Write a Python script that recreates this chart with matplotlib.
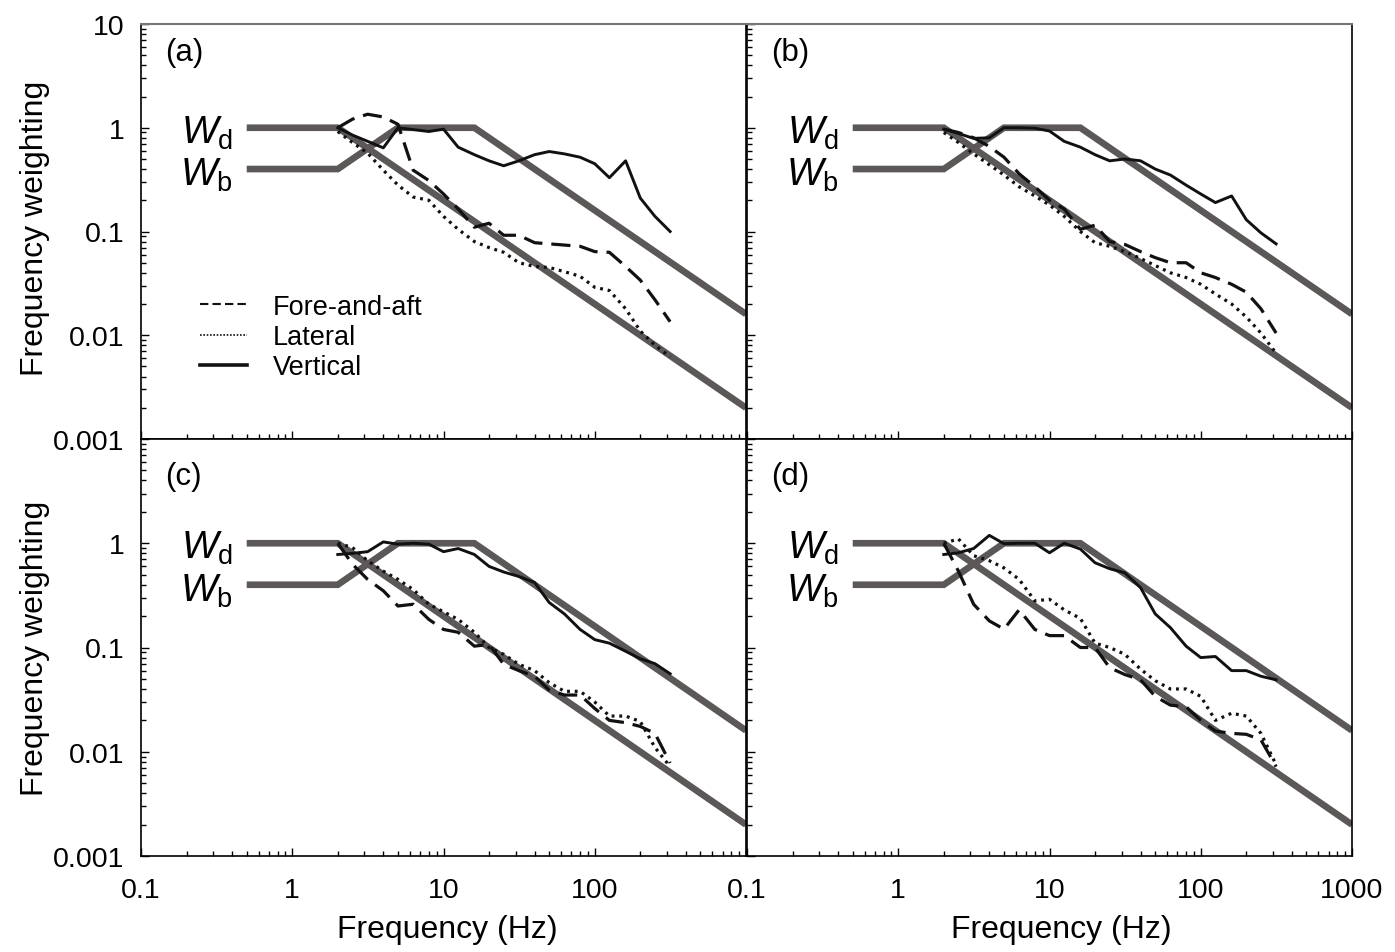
import matplotlib
matplotlib.use("Agg")
import matplotlib.pyplot as plt
from matplotlib.lines import Line2D
from matplotlib.ticker import FixedLocator, LogLocator, FuncFormatter, NullFormatter

plt.rcParams['font.family'] = ['Liberation Sans', 'DejaVu Sans']
plt.rcParams['mathtext.fontset'] = 'custom'
plt.rcParams['mathtext.rm'] = 'Liberation Sans'
plt.rcParams['mathtext.it'] = 'Liberation Sans:italic'

# ---------------- data ----------------
freqs = [2, 2.5, 3.15, 4, 5, 6.3, 8, 10, 12.5, 16, 20, 25, 31.5, 40, 50, 63,
         80, 100, 125, 160, 200, 250, 315]

a_fore = [1.0, 1.21, 1.35, 1.27, 1.08, 0.39, 0.31, 0.23, 0.165, 0.11, 0.12, 0.092,
          0.092, 0.078, 0.076, 0.074, 0.072, 0.064, 0.063, 0.046, 0.034, 0.022, 0.0135]
a_lat = [0.92, 0.72, 0.57, 0.39, 0.28, 0.215, 0.2, 0.14, 0.105, 0.08, 0.07, 0.063,
         0.05, 0.046, 0.045, 0.041, 0.037, 0.029, 0.027, 0.018, 0.011, 0.008, 0.0062]
a_vert = [1.0, 0.85, 0.74, 0.64, 1.0, 0.96, 0.92, 0.97, 0.65, 0.55, 0.48, 0.43,
          0.48, 0.55, 0.59, 0.56, 0.52, 0.45, 0.33, 0.48, 0.21, 0.14, 0.10]

b_fore = [0.97, 0.9, 0.8, 0.66, 0.52, 0.36, 0.27, 0.2, 0.165, 0.105, 0.115, 0.08,
          0.075, 0.064, 0.056, 0.05, 0.05, 0.04, 0.036, 0.031, 0.026, 0.018, 0.0105]
b_lat = [0.9, 0.72, 0.56, 0.44, 0.35, 0.27, 0.22, 0.18, 0.14, 0.1, 0.078, 0.072,
         0.064, 0.055, 0.047, 0.04, 0.036, 0.031, 0.025, 0.02, 0.015, 0.0105, 0.0067]
b_vert = [0.97, 0.88, 0.79, 0.8, 1.0, 1.0, 0.99, 0.93, 0.74, 0.65, 0.55, 0.48,
          0.5, 0.48, 0.4, 0.35, 0.28, 0.23, 0.19, 0.22, 0.13, 0.097, 0.076]

c_fore = [1.0, 0.63, 0.45, 0.35, 0.25, 0.26, 0.186, 0.149, 0.14, 0.103, 0.107, 0.069,
          0.06, 0.053, 0.039, 0.035, 0.035, 0.026, 0.02, 0.019, 0.0175, 0.015, 0.0078]
c_lat = [1.0, 0.91, 0.68, 0.54, 0.45, 0.36, 0.26, 0.22, 0.186, 0.14, 0.1, 0.086,
         0.069, 0.06, 0.046, 0.038, 0.038, 0.03, 0.022, 0.022, 0.0195, 0.011, 0.0072]
c_vert = [0.78, 0.8, 0.83, 1.03, 0.98, 1.0, 0.98, 0.83, 0.89, 0.78, 0.6, 0.53,
          0.48, 0.42, 0.27, 0.21, 0.149, 0.119, 0.11, 0.092, 0.078, 0.07, 0.056]

d_fore = [1.0, 0.54, 0.26, 0.18, 0.15, 0.23, 0.149, 0.13, 0.13, 0.1, 0.1, 0.064,
          0.055, 0.049, 0.034, 0.028, 0.027, 0.02, 0.0158, 0.015, 0.0147, 0.013, 0.0072]
d_lat = [1.0, 1.1, 0.76, 0.68, 0.58, 0.45, 0.28, 0.29, 0.23, 0.19, 0.11, 0.1,
         0.086, 0.062, 0.048, 0.04, 0.04, 0.034, 0.02, 0.0234, 0.022, 0.015, 0.0075]
d_vert = [0.78, 0.81, 0.89, 1.19, 0.99, 1.0, 1.0, 0.81, 1.0, 0.88, 0.65, 0.57,
          0.52, 0.375, 0.21, 0.155, 0.103, 0.08, 0.082, 0.06, 0.06, 0.053, 0.049]

# asymptotic weightings
wd_f = [0.5, 2, 1000]
wd_v = [1, 1, 0.002]
wb_f = [0.5, 2, 5, 16, 1000]
wb_v = [0.4, 0.4, 1, 1, 0.016]

panel_labels = ['(a)', '(b)', '(c)', '(d)']
series_names = ['Fore-and-aft', 'Lateral', 'Vertical']
x_ticks = [0.1, 1, 10, 100, 1000]
y_ticks = [0.001, 0.01, 0.1, 1, 10]

panels = [(a_fore, a_lat, a_vert), (b_fore, b_lat, b_vert),
          (c_fore, c_lat, c_vert), (d_fore, d_lat, d_vert)]

# ---------------- figure ----------------
W, H = 1395, 953
fig = plt.figure(figsize=(W / 100, H / 100), dpi=100)

def fx(px):
    return px / W

def fy(py):
    return 1 - py / H

x0L, x0R, axw = 141, 747, 605
rects = [
    (fx(x0L), fy(440), fx(axw), fy(25) - fy(440)),
    (fx(x0R), fy(440), fx(axw), fy(25) - fy(440)),
    (fx(x0L), fy(857), fx(axw), fy(440) - fy(857)),
    (fx(x0R), fy(857), fx(axw), fy(440) - fy(857)),
]

grey = '#5c5858'
ink = '#111111'
tick_fs = 20.5
lab_fs = 23

def fmt(v):
    if v >= 1:
        return '%d' % v
    return ('%.3f' % v).rstrip('0')

for i, rect in enumerate(rects):
    ax = fig.add_axes(rect)
    ax.set_xscale('log')
    ax.set_yscale('log')
    ax.set_xlim(0.1, 1000)
    ax.set_ylim(0.001, 10)

    ax.plot(wd_f, wd_v, color=grey, lw=4.8, solid_capstyle='butt',
            solid_joinstyle='miter', zorder=2)
    ax.plot(wb_f, wb_v, color=grey, lw=4.8, solid_capstyle='butt',
            solid_joinstyle='miter', zorder=2)

    fore, lat, vert = panels[i]
    ax.plot(freqs, fore, color=ink, lw=2.3, dashes=(6.0, 2.8), zorder=3)
    ax.plot(freqs, lat, color=ink, lw=2.3, dashes=(0.9, 1.5),
            dash_capstyle='butt', zorder=3)
    ax.plot(freqs, vert, color=ink, lw=2.1, zorder=4)

    # W labels
    ax.annotate(r'$W_\mathrm{d}$', xy=(0.5, 1.0), xytext=(-10, -3),
                textcoords='offset points', ha='right', va='center', fontsize=28)
    ax.annotate(r'$W_\mathrm{b}$', xy=(0.5, 0.4), xytext=(-10, -4),
                textcoords='offset points', ha='right', va='center', fontsize=28)

    ly = 0.932 if i < 2 else 0.912
    ax.text(0.04, ly, panel_labels[i], transform=ax.transAxes, fontsize=22.5,
            ha='left', va='center')

    # ticks
    ax.xaxis.set_major_locator(FixedLocator(x_ticks))
    ax.xaxis.set_minor_locator(LogLocator(base=10, subs=range(2, 10), numticks=20))
    ax.yaxis.set_major_locator(FixedLocator(y_ticks))
    ax.yaxis.set_minor_locator(LogLocator(base=10, subs=range(2, 10), numticks=20))
    ax.xaxis.set_minor_formatter(NullFormatter())
    ax.yaxis.set_minor_formatter(NullFormatter())
    ax.tick_params(which='both', direction='in', top=False, right=False,
                   labelsize=tick_fs, width=1.0, color='black')
    ax.tick_params(which='major', length=6)
    ax.tick_params(which='minor', length=3.6)
    ax.tick_params(axis='x', pad=15)
    ax.tick_params(axis='y', pad=12)

    if i == 2:
        ax.xaxis.set_major_formatter(FuncFormatter(
            lambda v, p: '' if v >= 1000 else fmt(v)))
    elif i == 3:
        ax.xaxis.set_major_formatter(FuncFormatter(lambda v, p: fmt(v)))
    else:
        ax.xaxis.set_major_formatter(NullFormatter())

    if i == 0:
        ax.yaxis.set_major_formatter(FuncFormatter(lambda v, p: fmt(v)))
    elif i == 2:
        ax.yaxis.set_major_formatter(FuncFormatter(
            lambda v, p: '' if v >= 10 else fmt(v)))
    else:
        ax.yaxis.set_major_formatter(NullFormatter())

    for s in ax.spines.values():
        s.set_linewidth(1.2)
        s.set_color('black')
    if i < 2:
        ax.spines['top'].set_color('#777777')
        ax.spines['top'].set_linewidth(1.5)

    if i >= 2:
        ax.set_xlabel('Frequency (Hz)', fontsize=lab_fs)
        ax.xaxis.set_label_coords(0.507 if i == 2 else 0.52, -0.14)

    if i == 0:
        handles = [
            Line2D([], [], color=ink, lw=1.5, dashes=(4.0, 2.0)),
            Line2D([], [], color=ink, lw=1.2, dashes=(1.0, 1.0),
                   dash_capstyle='butt'),
            Line2D([], [], color=ink, lw=2.6),
        ]
        ax.legend(handles, series_names, loc='upper left',
                  bbox_to_anchor=(0.097, 0.35), frameon=False, fontsize=19.5,
                  handlelength=1.75, handletextpad=0.95, labelspacing=0.16,
                  borderpad=0, borderaxespad=0)

for cy in (228, 648):
    fig.text(fx(35), fy(cy), 'Frequency weighting', rotation=90,
             fontsize=lab_fs, ha='center', va='center')

fig.savefig('out.png', dpi=100)
